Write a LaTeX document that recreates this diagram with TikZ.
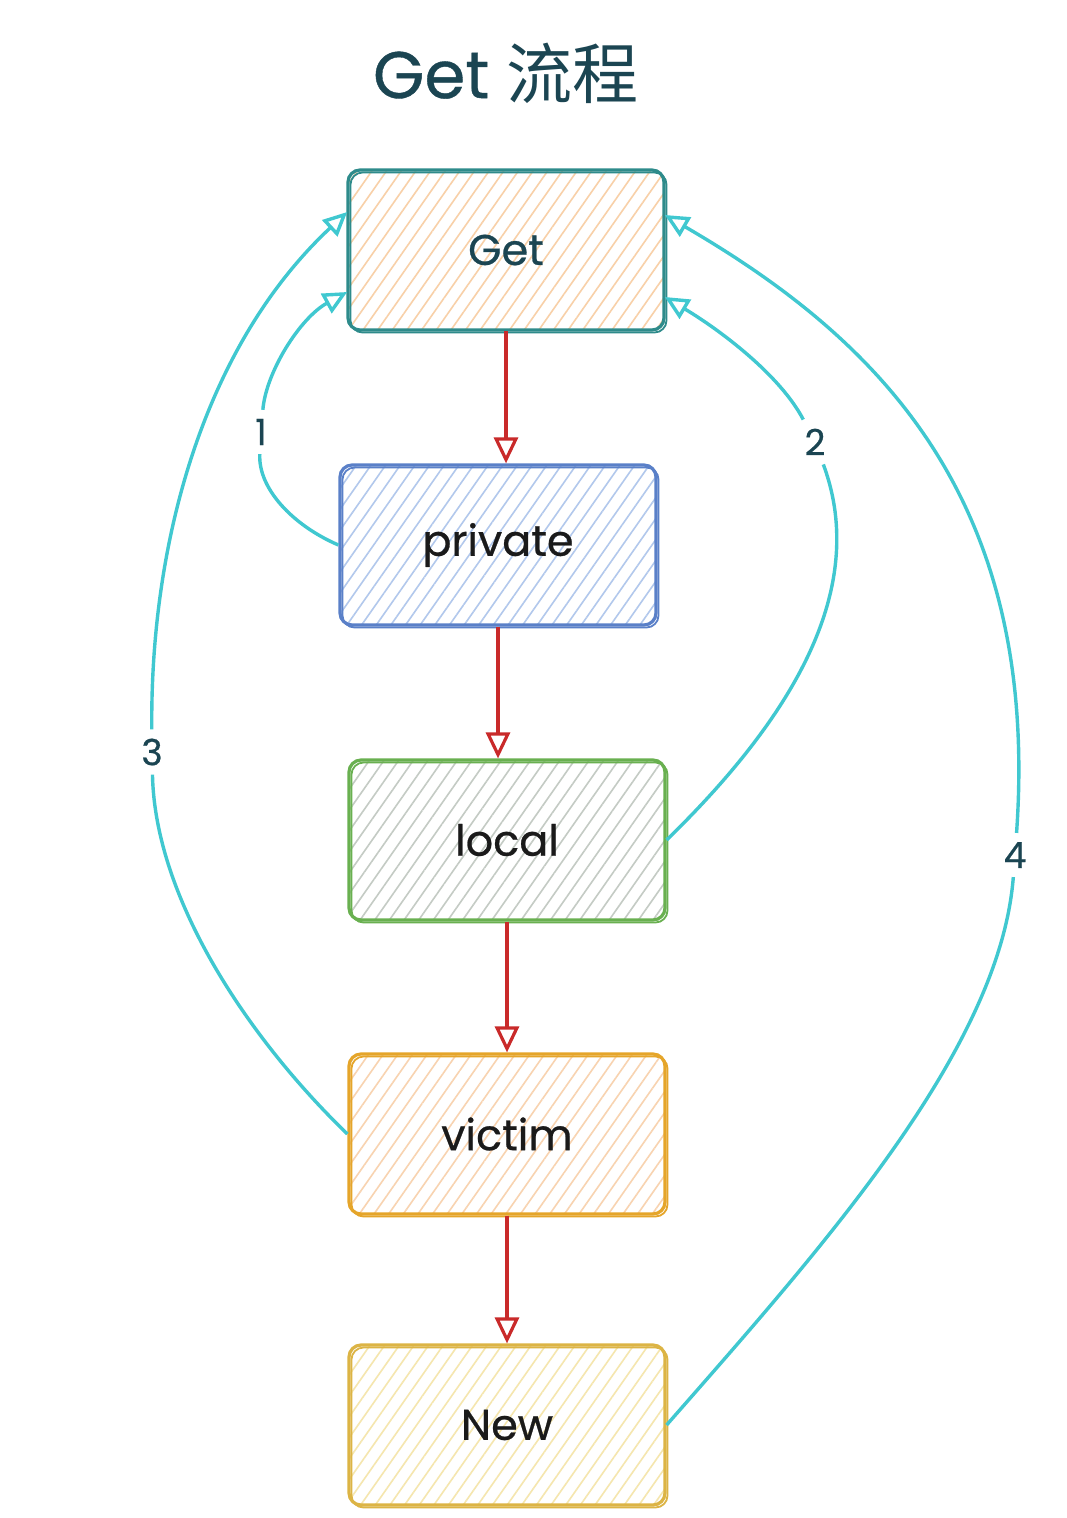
\documentclass[tikz,border=0pt]{standalone}
\usepackage{fontspec}
\setmainfont{Poppins}[FakeBold=0.6]
\newfontfamily\cjk{Noto Sans CJK SC}
\usetikzlibrary{arrows.meta,patterns.meta,calc}
\definecolor{cyanline}{HTML}{40C8D0}
\definecolor{redline}{HTML}{C92A2A}
\definecolor{inkteal}{HTML}{1B4552}
\definecolor{inkdark}{HTML}{1A1A1A}
\definecolor{getstroke}{HTML}{2E8B8B}
\definecolor{gethatch}{HTML}{F8D0A8}
\definecolor{privstroke}{HTML}{5A80C8}
\definecolor{privhatch}{HTML}{B2C8EC}
\definecolor{locstroke}{HTML}{69B050}
\definecolor{lochatch}{HTML}{C4CBC4}
\definecolor{vicstroke}{HTML}{E5A52A}
\definecolor{vichatch}{HTML}{F8D3B0}
\definecolor{newstroke}{HTML}{DCB445}
\definecolor{newhatch}{HTML}{F5E6AE}
\tikzset{
  box/.style 2 args={draw=#1, line width=3.2pt, rounded corners=12pt,
    minimum width=316pt, minimum height=160pt, inner sep=0pt,
    pattern={Lines[angle=55,distance=12pt,line width=1.6pt]}, pattern color=#2,
    text=inkdark, font=\fontsize{43}{50}\selectfont,
    postaction={draw=#1, line width=1.8pt, transform canvas={xshift=2.5pt,yshift=-2.5pt}}},
  redarrow/.style={draw=redline, line width=3.2pt,
    -{Triangle[open,length=26pt,width=24pt]}},
  cyarrow/.style={draw=cyanline, line width=3.4pt,
    -{Triangle[open,length=24pt,width=22pt]}},
  numlabel/.style={text=inkteal, font=\fontsize{36}{42}\selectfont, inner sep=9pt}
}
\begin{document}
\begin{tikzpicture}[x=1pt,y=-1pt]
\useasboundingbox[fill=white] (0,0) rectangle (1066,1518);
\node[text=inkteal, font=\fontsize{66}{78}\selectfont] (title) at (506,73) {Get {\cjk 流程}};
\node[box={getstroke}{gethatch}, text=inkteal] (get) at (506,250) {Get};
\node[box={privstroke}{privhatch}] (priv) at (498,545) {private};
\node[box={locstroke}{lochatch}] (loc) at (507,840) {local};
\node[box={vicstroke}{vichatch}] (vic) at (507,1134) {victim};
\node[box={newstroke}{newhatch}] (new) at (507,1425) {New};
% red flow arrows
\draw[redarrow] (get.south) -- (get.south |- priv.north);
\draw[redarrow] (priv.south) -- (priv.south |- loc.north);
\draw[redarrow] (loc.south) -- (loc.south |- vic.north);
\draw[redarrow] (vic.south) -- (vic.south |- new.north);
% labels
\node[numlabel] (l1) at (261,432) {1};
\node[numlabel] (l2) at (815,442) {2};
\node[numlabel] (l3) at (152,752) {3};
\node[numlabel] (l4) at (1015,855) {4};
% cyan return arrows
\draw[cyarrow] (priv.west) .. controls (292,525) and (258,488) .. (l1)
  .. controls (266,372) and (300,318) .. ([yshift=-42pt]get.west);
\draw[cyarrow] (loc.east) .. controls (790,720) and (870,590) .. (l2)
  .. controls (780,375) and (720,330) .. ([yshift=-47pt]get.east);
\draw[cyarrow] (vic.west) .. controls (250,1040) and (155,900) .. (l3)
  .. controls (150,540) and (205,345) .. ([yshift=38pt]get.west);
\draw[cyarrow] (new.east) .. controls (820,1250) and (1000,1050) .. (l4)
  .. controls (1040,500) and (880,340) .. ([yshift=35pt]get.east);
\end{tikzpicture}
\end{document}
